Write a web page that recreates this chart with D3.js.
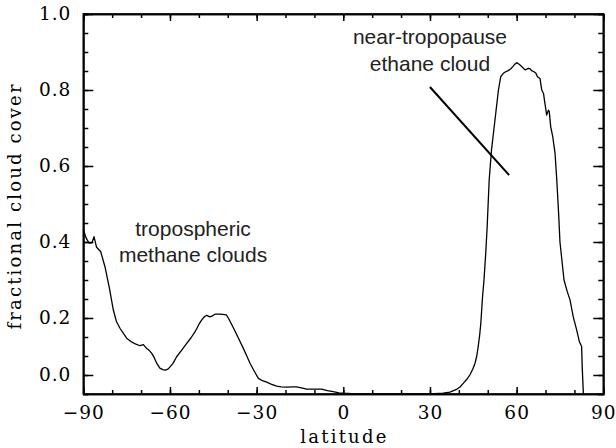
<!DOCTYPE html>
<html lang="en">
<head>
<meta charset="UTF-8">
<title>fractional cloud cover</title>
<script src="https://d3js.org/d3.v7.min.js"></script>
<style>
    body { margin: 0; background: #fff; }
    .tick text { font-family: "DejaVu Serif", serif; font-size: 18.5px; fill: #000; letter-spacing: 1px; }
    .axis path, .axis line { stroke: #000; stroke-width: 1.5; }
    .axis-label { font-family: "DejaVu Serif", serif; font-size: 18px; fill: #000; }
    .note { font-family: "Liberation Sans", Arial, sans-serif; font-size: 21px; fill: #222; }
</style>
</head>
<body>
<div id="chart"></div>
<script>
    // latitude (deg) and fractional cloud cover
    const latitude = [
        -90, -89, -88, -87, -86.3, -85.4, -84, -82.5, -81, -79.6, -78.5, -77.3, -76, -75,
        -73.5, -72, -70.4, -69.2, -68.1, -67.2, -66.3, -65.4, -64.6, -63.5, -62.5, -61.5,
        -60.6, -59, -57.7, -56, -54.2, -52.7, -51.3, -50, -49, -48, -47.3, -46.2, -45.5,
        -44.4, -42.5, -40.5, -39.8, -38.1, -36.5, -34.6, -33.4, -32.3, -30.8, -29.4, -28,
        -26.5, -25, -23.1, -21.5, -19.6, -17.5, -16.2, -14.5, -12.7, -10, -7.5, -5.5, -3.5,
        -1.5, 0, 3, 10, 20, 30, 34.6, 36.9, 39.2, 40.5, 41.5, 42.7, 43.8, 44.8, 45.6, 46.2,
        46.7, 47.2, 47.6, 48.2, 48.7, 49.3, 49.8, 50.5, 51.3, 52.5, 53.7, 54.5, 55.4, 56.2,
        57.1, 58, 58.6, 59.4, 60, 60.6, 61.2, 62, 62.9, 63.5, 64, 64.6, 65.2, 66, 66.7, 67.2,
        68.1, 68.4, 68.7, 69.3, 69.8, 70.4, 71, 71.3, 71.8, 72.5, 73.3, 73.9, 74.5, 75, 75.7,
        76.4, 77.5, 78.5, 79.6, 80.8, 81.7, 82.5, 82.7, 83.1
    ];
    const cloudCover = [
        0.433, 0.41, 0.397, 0.398, 0.414, 0.386, 0.375, 0.335, 0.28, 0.221, 0.19, 0.173, 0.158, 0.147,
        0.138, 0.132, 0.127, 0.13, 0.12, 0.115, 0.107, 0.095, 0.081, 0.068, 0.064, 0.063,
        0.066, 0.08, 0.098, 0.115, 0.133, 0.148, 0.164, 0.183, 0.195, 0.204, 0.207, 0.203, 0.205,
        0.21, 0.21, 0.208, 0.2, 0.175, 0.15, 0.12, 0.1, 0.081, 0.06, 0.041, 0.035,
        0.031, 0.026, 0.021, 0.019, 0.018, 0.019, 0.019, 0.016, 0.013, 0.013, 0.013, 0.009, 0.006,
        0.003, 0.002, 0.001, 0, 0, 0, 0.002, 0.005, 0.012, 0.019, 0.028, 0.038, 0.05, 0.065, 0.081, 0.1,
        0.125, 0.155, 0.186, 0.256, 0.3, 0.37, 0.44, 0.563, 0.642, 0.721, 0.8, 0.835, 0.844, 0.848,
        0.851, 0.856, 0.861, 0.868, 0.872, 0.869, 0.866, 0.86, 0.853, 0.855, 0.857, 0.856, 0.851, 0.848, 0.844, 0.835,
        0.83, 0.815, 0.8, 0.791, 0.765, 0.734, 0.747, 0.743, 0.703, 0.677, 0.633, 0.563, 0.48, 0.4, 0.35,
        0.3, 0.27, 0.247, 0.203, 0.168, 0.138, 0.125, 0.072, 0
    ];

    const xTicks = [-90, -60, -30, 0, 30, 60, 90];
    const xTickLabels = ["\u221290", "\u221260", "\u221230", "0", "30", "60", "90"];
    const xMinorTicks = d3.range(-90, 91, 10);
    // the "0.0" label sits one minor step above the frame bottom in the original
    const yTicks = [0.05, 0.2, 0.4, 0.6, 0.8, 1.0];
    const yTickLabels = ["0.0", "0.2", "0.4", "0.6", "0.8", "1.0"];
    const yMinorTicks = d3.range(0, 1.0001, 0.05);

    const notes = [
        { lines: ["tropospheric", "methane clouds"], lat: -52, val: 0.416 },
        { lines: ["near-tropopause", "ethane cloud"], lat: 30, val: 0.921 }
    ];
    const pointer = [[30, 0.808], [57.4, 0.576]];

    const W = 616, H = 448;
    const margin = { top: 14, right: 12.7, bottom: 54, left: 83.3 };
    const width = W - margin.left - margin.right;
    const height = H - margin.top - margin.bottom;

    const svg = d3.select("#chart").append("svg")
        .attr("width", W)
        .attr("height", H)
        .append("g")
        .attr("transform", `translate(${margin.left},${margin.top})`);

    const x = d3.scaleLinear().domain([-90, 90]).range([0, width]);
    const y = d3.scaleLinear().domain([0, 1]).range([height, 0]);

    // minor ticks on all four sides
    svg.append("g").attr("class", "axis")
        .attr("transform", `translate(0,${height})`)
        .call(d3.axisBottom(x).tickValues(xMinorTicks).tickSize(-4).tickFormat(""));
    svg.append("g").attr("class", "axis")
        .call(d3.axisTop(x).tickValues(xMinorTicks).tickSize(-4).tickFormat(""));
    svg.append("g").attr("class", "axis")
        .call(d3.axisLeft(y).tickValues(yMinorTicks).tickSize(-5).tickFormat(""));
    svg.append("g").attr("class", "axis")
        .attr("transform", `translate(${width},0)`)
        .call(d3.axisRight(y).tickValues(yMinorTicks).tickSize(-5).tickFormat(""));

    // major ticks with labels
    svg.append("g").attr("class", "axis")
        .attr("transform", `translate(0,${height})`)
        .call(d3.axisBottom(x).tickValues(xTicks).tickSizeInner(-7).tickSizeOuter(0).tickPadding(12)
            .tickFormat((d, i) => xTickLabels[i]));
    svg.append("g").attr("class", "axis")
        .call(d3.axisTop(x).tickValues(xTicks).tickSizeInner(-7).tickSizeOuter(0).tickFormat(""));
    svg.append("g").attr("class", "axis")
        .call(d3.axisLeft(y).tickValues(yTicks).tickSizeInner(-10).tickSizeOuter(0).tickPadding(12)
            .tickFormat((d, i) => yTickLabels[i]));
    svg.append("g").attr("class", "axis")
        .attr("transform", `translate(${width},0)`)
        .call(d3.axisRight(y).tickValues(yTicks).tickSizeInner(-10).tickSizeOuter(0).tickFormat(""));

    svg.append("rect")
        .attr("width", width).attr("height", height)
        .attr("fill", "none").attr("stroke", "#000").attr("stroke-width", 1.6);

    const line = d3.line()
        .x((d, i) => x(latitude[i]))
        .y(d => y(d));

    svg.append("path")
        .datum(cloudCover)
        .attr("fill", "none")
        .attr("stroke", "#000")
        .attr("stroke-width", 1.3)
        .attr("stroke-linejoin", "round")
        .attr("d", line);

    svg.append("line")
        .attr("x1", x(pointer[0][0])).attr("y1", y(pointer[0][1]))
        .attr("x2", x(pointer[1][0])).attr("y2", y(pointer[1][1]))
        .attr("stroke", "#000").attr("stroke-width", 2);

    notes.forEach(n => {
        const t = svg.append("text").attr("class", "note")
            .attr("text-anchor", "middle")
            .attr("x", x(n.lat)).attr("y", y(n.val));
        n.lines.forEach((s, i) => {
            t.append("tspan").attr("x", x(n.lat)).attr("dy", i ? 26.5 : 0).text(s);
        });
    });

    svg.append("text").attr("class", "axis-label")
        .attr("text-anchor", "middle")
        .attr("x", width / 2).attr("y", height + 49)
        .attr("textLength", 86).attr("lengthAdjust", "spacing")
        .text("latitude");

    svg.append("text").attr("class", "axis-label")
        .attr("text-anchor", "middle")
        .attr("transform", `translate(${-margin.left + 21},${height / 2 + 3}) rotate(-90)`)
        .attr("textLength", 245).attr("lengthAdjust", "spacing")
        .text("fractional cloud cover");
</script>
</body>
</html>
